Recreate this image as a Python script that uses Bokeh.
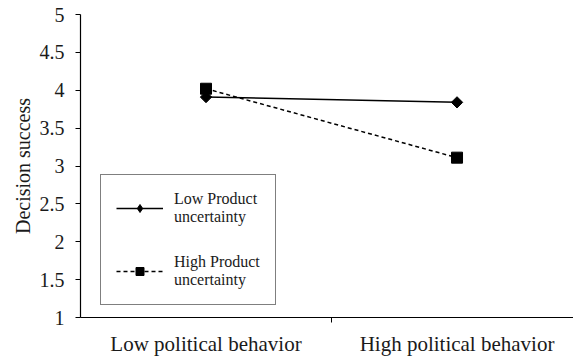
from bokeh.plotting import figure
from bokeh.models import Range1d, FixedTicker, Legend, LegendItem
from bokeh.embed import file_html
from bokeh.resources import INLINE
import math

categories = ["Low political behavior", "High political behavior"]
cat_pos = [0.5, 1.5]
low_pu = [3.91, 3.84]
high_pu = [4.02, 3.11]
series_names = ["Low Product\nuncertainty", "High Product\nuncertainty"]
y_ticks = [1, 1.5, 2, 2.5, 3, 3.5, 4, 4.5, 5]

FONT = "Liberation Serif"
TXT = "#1a1a1a"

p = figure(width=573, height=358, output_backend="svg", toolbar_location=None,
           x_range=Range1d(0, 1.964), y_range=Range1d(1, 5),
           min_border_left=80, min_border_right=0, min_border_top=14, min_border_bottom=36)
p.outline_line_color = None
p.background_fill_color = "white"

r1 = p.line(cat_pos, low_pu, line_color="black", line_width=1.5)
m1 = p.scatter(cat_pos, low_pu, marker="square", angle=math.pi / 4, size=8,
               fill_color="black", line_color="black")
r2 = p.line(cat_pos, high_pu, line_color="black", line_width=1.5, line_dash="4 3")
m2 = p.scatter(cat_pos, high_pu, marker="square", size=11, fill_color="black", line_color="black")

# legend-only swatch (diamond shape); its single point is NaN so nothing is drawn in the plot
nan = float("nan")
m1_legend = p.scatter([nan], [nan], marker="diamond", size=12, fill_color="black", line_color="black")

# axes
p.xaxis.ticker = FixedTicker(ticks=cat_pos, minor_ticks=[1])
p.xaxis.major_label_overrides = {cat_pos[i]: categories[i] for i in range(2)}
p.xaxis.major_tick_line_color = None
p.xaxis.major_tick_out = 0
p.xaxis.major_tick_in = 0
p.xaxis.minor_tick_line_color = "black"
p.xaxis.minor_tick_in = 0
p.xaxis.minor_tick_out = 5
p.xaxis.major_label_text_font = FONT
p.xaxis.major_label_text_font_size = "21px"
p.xaxis.major_label_text_color = TXT
p.xaxis.major_label_standoff = 9
p.xaxis.axis_line_color = "black"
p.xaxis.axis_line_width = 1.2

p.yaxis.ticker = FixedTicker(ticks=y_ticks)
p.yaxis.major_label_overrides = {t: ("%g" % t) for t in y_ticks}
p.yaxis.minor_tick_line_color = None
p.yaxis.major_tick_in = 0
p.yaxis.major_tick_out = 5
p.yaxis.major_tick_line_color = "black"
p.yaxis.axis_line_color = "black"
p.yaxis.axis_line_width = 1.2
p.yaxis.major_label_text_font = FONT
p.yaxis.major_label_text_font_size = "20px"
p.yaxis.major_label_text_color = TXT
p.yaxis.major_label_standoff = 11
p.yaxis.axis_label = "Decision success"
p.yaxis.axis_label_text_font = FONT
p.yaxis.axis_label_text_font_size = "20px"
p.yaxis.axis_label_text_font_style = "normal"
p.yaxis.axis_label_text_color = TXT
p.yaxis.axis_label_standoff = 3

p.xgrid.grid_line_color = None
p.ygrid.ticker = FixedTicker(ticks=[5])
p.ygrid.grid_line_color = "#999999"
p.ygrid.grid_line_width = 2

legend = Legend(items=[LegendItem(label=series_names[0], renderers=[r1, m1_legend]),
                       LegendItem(label=series_names[1], renderers=[r2, m2])],
                location=(20, 12))
legend.label_text_font = FONT
legend.label_text_font_size = "16px"
legend.label_text_color = TXT
legend.label_text_line_height = 1.15
legend.border_line_color = "black"
legend.border_line_width = 1
legend.glyph_width = 47
legend.glyph_height = 20
legend.padding = 15
legend.spacing = 27
legend.label_standoff = 11
legend.margin = 0
p.add_layout(legend)

open("out.html", "w").write(file_html(p, INLINE))
